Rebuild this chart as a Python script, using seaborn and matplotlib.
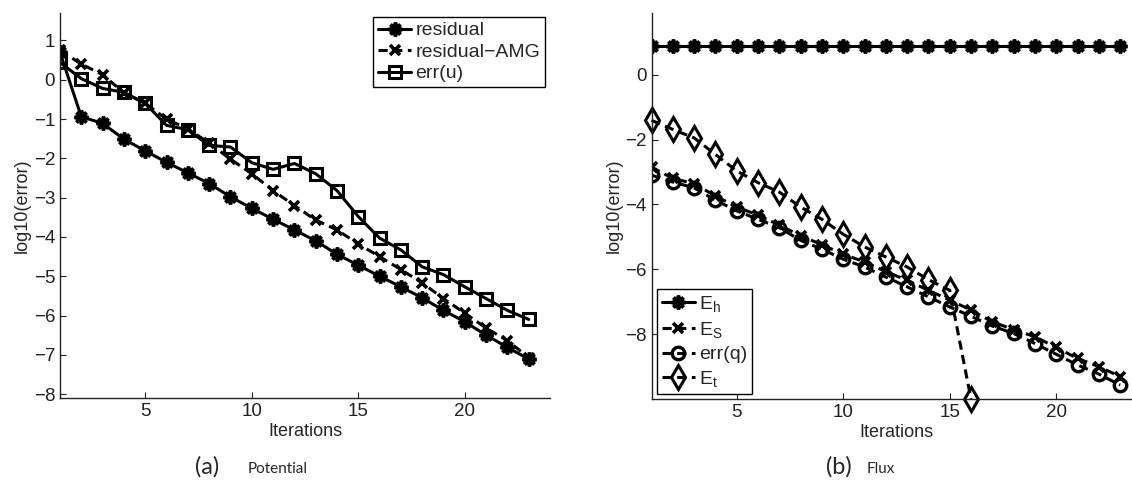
import numpy as np
import pandas as pd
import matplotlib
matplotlib.use("Agg")
import matplotlib.pyplot as plt
import seaborn as sns

# values (log10 of the error)
iterations = list(range(1, 24))

residual = [0.70, -0.94, -1.11, -1.51, -1.81, -2.10, -2.37, -2.64, -2.98, -3.27, -3.55, -3.82,
            -4.10, -4.44, -4.72, -5.00, -5.27, -5.55, -5.87, -6.16, -6.50, -6.81, -7.11]
residual_amg = [0.75, 0.40, 0.13, -0.33, -0.60, -1.00, -1.25, -1.61, -2.02, -2.39, -2.82, -3.20,
                -3.57, -3.82, -4.18, -4.50, -4.83, -5.17, -5.57, -5.94, -6.32, -6.64, -7.07]
err_u = [0.44, 0.03, -0.22, -0.32, -0.60, -1.16, -1.27, -1.67, -1.71, -2.11, -2.28, -2.13,
         -2.39, -2.82, -3.48, -4.03, -4.33, -4.76, -4.96, -5.27, -5.57, -5.87, -6.10]

e_h = [0.88, 0.88, 0.88, 0.88, 0.88, 0.88, 0.88, 0.88, 0.88, 0.88, 0.88, 0.88,
       0.88, 0.88, 0.88, 0.88, 0.88, 0.88, 0.88, 0.88, 0.88, 0.88, 0.88]
e_s = [-2.85, -3.20, -3.36, -3.74, -4.08, -4.33, -4.64, -4.97, -5.24, -5.54, -5.77, -6.07,
       -6.34, -6.65, -6.95, -7.26, -7.62, -7.86, -8.08, -8.41, -8.75, -9.00, -9.31]
err_q = [-3.10, -3.31, -3.49, -3.87, -4.20, -4.46, -4.72, -5.11, -5.38, -5.69, -5.93, -6.24,
         -6.54, -6.85, -7.16, -7.45, -7.75, -7.98, -8.29, -8.62, -8.95, -9.23, -9.57]
iterations_t = list(range(1, 17))
e_t = [-1.41, -1.69, -1.95, -2.46, -2.97, -3.33, -3.62, -4.08, -4.46, -4.92, -5.31, -5.62,
       -5.93, -6.32, -6.65, -10.0]

sns.set_style("ticks", {"xtick.direction": "in", "ytick.direction": "in"})
plt.rcParams['font.family'] = ['Liberation Sans', 'DejaVu Sans']
plt.rcParams['font.size'] = 13
plt.rcParams['axes.linewidth'] = 1.0
plt.rcParams['axes.edgecolor'] = '#222222'
plt.rcParams['xtick.major.size'] = 4
plt.rcParams['ytick.major.size'] = 4
plt.rcParams['xtick.color'] = '#222222'
plt.rcParams['ytick.color'] = '#222222'
plt.rcParams['xtick.labelsize'] = 13.5
plt.rcParams['ytick.labelsize'] = 13.5

ASTER = (8, 2, 0)
LW = 2.2
DASH = (3, 1.8)

fig = plt.figure(figsize=(11.32, 4.92), dpi=100)
ax1 = fig.add_axes([60 / 1132, 1 - 398 / 492, 490 / 1132, 385 / 492])
ax2 = fig.add_axes([651.5 / 1132, 1 - 399 / 492, 489.9 / 1132, 386 / 492])


def draw(ax, x, y, label, marker, dashed, ms=8, mew=2.0, clip=True):
    kw = dict(color='k', linewidth=LW, marker=marker, markersize=ms,
              markeredgewidth=mew, markerfacecolor='none' if marker not in (ASTER, 'x') else 'k',
              markeredgecolor='k', label=label, clip_on=clip)
    if dashed:
        kw['dashes'] = DASH
    sns.lineplot(x=x, y=y, ax=ax, **kw)


# (a) Potential
draw(ax1, iterations, residual, 'residual', ASTER, False, ms=10, mew=2.6)
draw(ax1, iterations, residual_amg, 'residual\u2212AMG', 'x', True, ms=7, mew=2.6)
draw(ax1, iterations, err_u, 'err(u)', 's', False, ms=9, mew=2.2)
ax1.set_xlim(1, 24)
ax1.set_ylim(-8.1, 1.7)
ax1.set_xticks([5, 10, 15, 20])
ax1.set_yticks(np.arange(-8, 2, 1))
ax1.set_yticklabels([f"{v}".replace('-', '\u2212') for v in range(-8, 2)])
ax1.set_xlabel('Iterations', fontsize=13)
ax1.set_ylabel('log10(error)', fontsize=13)
leg1 = ax1.legend(loc='upper right', bbox_to_anchor=(545 / 1132, 1 - 17 / 492),
                  bbox_transform=fig.transFigure, borderaxespad=0, fancybox=False,
                  edgecolor='k', framealpha=1, handlelength=1.7, handletextpad=0.2,
                  labelspacing=0.2, borderpad=0.25, fontsize=14)
leg1.get_frame().set_linewidth(1.0)

# (b) Flux
draw(ax2, iterations, e_h, r'$\mathregular{E_h}$', ASTER, False, ms=10, mew=2.6)
draw(ax2, iterations, e_s, r'$\mathregular{E_S}$', 'x', True, ms=7, mew=2.6)
draw(ax2, iterations, err_q, 'err(q)', 'o', True, ms=9, mew=2.4)
draw(ax2, iterations_t, e_t, r'$\mathregular{E_t}$', 'd', True, ms=12, mew=2.2, clip=False)
ax2.set_xlim(1, 24)
ax2.set_ylim(-10, 1.9)
ax2.set_xticks([5, 10, 15, 20])
ax2.set_yticks([-8, -6, -4, -2, 0])
ax2.set_yticklabels([f"{v}".replace('-', '\u2212') for v in [-8, -6, -4, -2, 0]])
ax2.set_xlabel('Iterations', fontsize=13)
ax2.set_ylabel('log10(error)', fontsize=13)
leg2 = ax2.legend(loc='lower left', bbox_to_anchor=(657 / 1132, 1 - 394 / 492),
                  bbox_transform=fig.transFigure, borderaxespad=0, fancybox=False,
                  edgecolor='k', framealpha=1, handlelength=1.7, handletextpad=0.2,
                  labelspacing=0.3, borderpad=0.25, fontsize=14)
leg2.get_frame().set_linewidth(1.0)

for ax in (ax1, ax2):
    sns.despine(ax=ax)
    ax.xaxis.labelpad = 2
    ax.yaxis.labelpad = 2

# captions under the panels
fig.text(207 / 1132, 1 - 467 / 492, '(a)', family=['Lato', 'DejaVu Sans'], fontsize=17, ha='center', va='center')
fig.text(248 / 1132, 1 - 469 / 492, 'Potential', family=['Lato', 'DejaVu Sans'], fontsize=11, ha='left', va='center')
fig.text(839 / 1132, 1 - 467 / 492, '(b)', family=['Lato', 'DejaVu Sans'], fontsize=17, ha='center', va='center')
fig.text(867 / 1132, 1 - 469 / 492, 'Flux', family=['Lato', 'DejaVu Sans'], fontsize=11, ha='left', va='center')

fig.savefig('out.png', dpi=100)
